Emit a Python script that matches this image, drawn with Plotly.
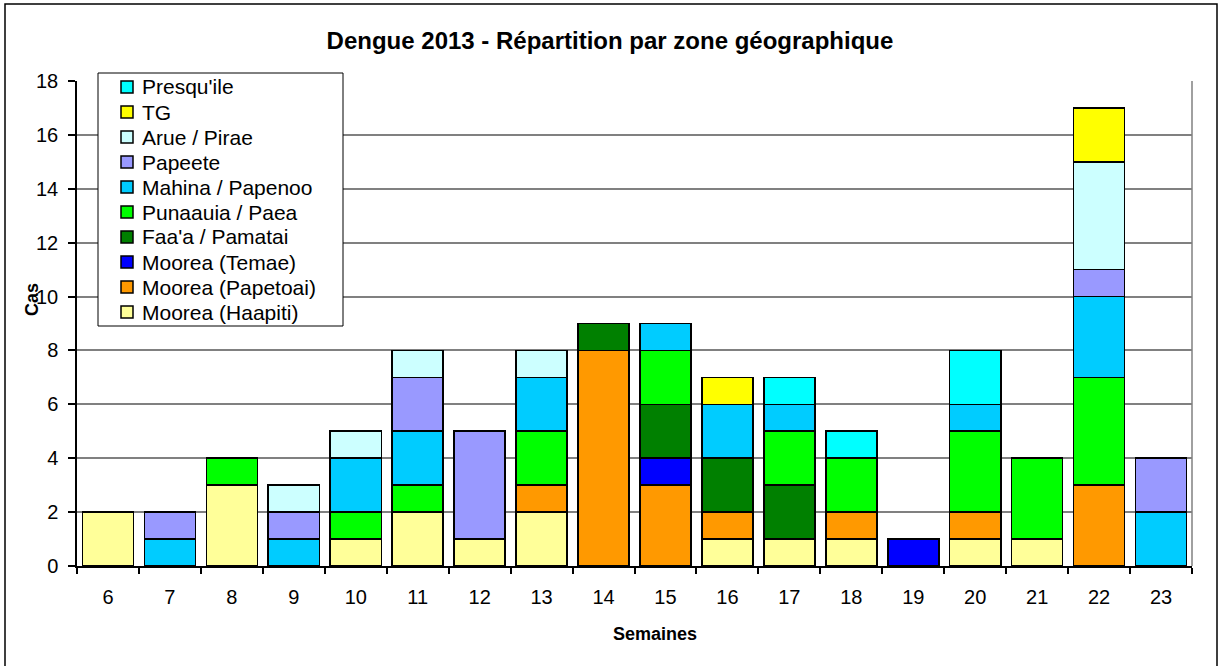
import plotly.graph_objects as go

# Semaines
semaines = [str(s) for s in range(6, 24)]

# Cas par zone (de bas en haut dans la pile)
haapiti   = [2, 0, 3, 0, 1, 2, 1, 2, 0, 0, 1, 1, 1, 0, 1, 1, 0, 0]
papetoai  = [0, 0, 0, 0, 0, 0, 0, 1, 8, 3, 1, 0, 1, 0, 1, 0, 3, 0]
temae     = [0, 0, 0, 0, 0, 0, 0, 0, 0, 1, 0, 0, 0, 1, 0, 0, 0, 0]
faaa      = [0, 0, 0, 0, 0, 0, 0, 0, 1, 2, 2, 2, 0, 0, 0, 0, 0, 0]
punaauia  = [0, 0, 1, 0, 1, 1, 0, 2, 0, 2, 0, 2, 2, 0, 3, 3, 4, 0]
mahina    = [0, 1, 0, 1, 2, 2, 0, 2, 0, 1, 2, 1, 0, 0, 1, 0, 3, 2]
papeete   = [0, 1, 0, 1, 0, 2, 4, 0, 0, 0, 0, 0, 0, 0, 0, 0, 1, 2]
arue      = [0, 0, 0, 1, 1, 1, 0, 1, 0, 0, 0, 0, 0, 0, 0, 0, 4, 0]
tg        = [0, 0, 0, 0, 0, 0, 0, 0, 0, 0, 1, 0, 0, 0, 0, 0, 2, 0]
presquile = [0, 0, 0, 0, 0, 0, 0, 0, 0, 0, 0, 1, 1, 0, 2, 0, 0, 0]

series = [
    ("Moorea (Haapiti)", haapiti, "#FFFF99"),
    ("Moorea (Papetoai)", papetoai, "#FF9900"),
    ("Moorea (Temae)", temae, "#0000FF"),
    ("Faa'a / Pamatai", faaa, "#008000"),
    ("Punaauia / Paea", punaauia, "#00FF00"),
    ("Mahina / Papenoo", mahina, "#00CCFF"),
    ("Papeete", papeete, "#9999FF"),
    ("Arue / Pirae", arue, "#CCFFFF"),
    ("TG", tg, "#FFFF00"),
    ("Presqu'ile", presquile, "#00FFFF"),
]

fig = go.Figure()
for nom, vals, couleur in series:
    fig.add_trace(go.Bar(
        x=semaines,
        y=[v if v else None for v in vals],
        name=nom,
        showlegend=False,
        marker=dict(color=couleur, line=dict(color="black", width=1.6)),
    ))

# Zone du graphique en pixels
L, R, T, B = 77, 1192, 81, 566
W, H = R - L, B - T


def px(x):
    return (x - L) / W


def py(y):
    return (B - y) / H


shapes = [
    # cadre extérieur
    dict(type="rect", xref="paper", yref="paper",
         x0=px(5), x1=px(1217), y0=py(720), y1=py(4),
         line=dict(color="black", width=1.5), layer="below"),
    # bord droit de la zone de tracé
    dict(type="line", xref="paper", yref="paper",
         x0=1, x1=1, y0=0, y1=1,
         line=dict(color="#808080", width=1.5)),
    # cadre de la légende
    dict(type="rect", xref="paper", yref="paper",
         x0=px(98), x1=px(343), y0=py(326), y1=py(73),
         fillcolor="white", line=dict(color="black", width=1)),
]
annotations = []

# Légende manuelle (ordre inversé, comme Excel)
for i, (nom, vals, couleur) in enumerate(reversed(series)):
    yc = 87 + i * 25
    shapes.append(dict(type="rect", xref="paper", yref="paper",
                       x0=px(121), x1=px(133), y0=py(yc + 6), y1=py(yc - 6),
                       fillcolor=couleur, line=dict(color="black", width=1.5)))
    annotations.append(dict(text=nom, xref="paper", yref="paper",
                            x=px(140), y=py(yc), xanchor="left", yanchor="middle",
                            showarrow=False, font=dict(size=21)))

annotations += [
    dict(text="<b>Cas</b>", xref="paper", yref="paper",
         x=px(32), y=py(300), textangle=-90, showarrow=False,
         xanchor="center", yanchor="middle", font=dict(size=18)),
    dict(text="<b>Semaines</b>", xref="paper", yref="paper",
         x=px(655), y=py(634), showarrow=False,
         xanchor="center", yanchor="middle", font=dict(size=18)),
]

fig.update_layout(
    width=1220, height=666,
    barmode="stack",
    bargap=0.175,
    plot_bgcolor="white",
    paper_bgcolor="white",
    margin=dict(l=L, r=1220 - R, t=T, b=666 - B, autoexpand=False),
    font=dict(family="Arial, Liberation Sans, sans-serif", color="black", size=20),
    title=dict(
        text="<b>Dengue 2013 - Répartition par zone géographique</b>",
        x=0.5, xanchor="center", y=1 - 41 / 666, yanchor="middle",
        font=dict(size=24),
    ),
    xaxis=dict(
        type="category",
        showline=True, linecolor="black", linewidth=1.5,
        ticks="outside", ticklen=6, tickcolor="black", tickwidth=1.5,
        tickson="boundaries",
        tickfont=dict(size=20),
        ticklabelstandoff=12,
        showgrid=False,
    ),
    yaxis=dict(
        range=[0, 18], dtick=2,
        showline=True, linecolor="black", linewidth=1.5,
        ticks="outside", ticklen=7, tickcolor="black", tickwidth=1.5,
        tickfont=dict(size=20),
        ticklabelstandoff=6,
        showgrid=True, gridcolor="#808080", gridwidth=1.5,
        zeroline=False,
    ),
    shapes=shapes,
    annotations=annotations,
)

fig.write_html("out.html", config={"displayModeBar": False},
               post_script="document.body.style.margin='0';")
